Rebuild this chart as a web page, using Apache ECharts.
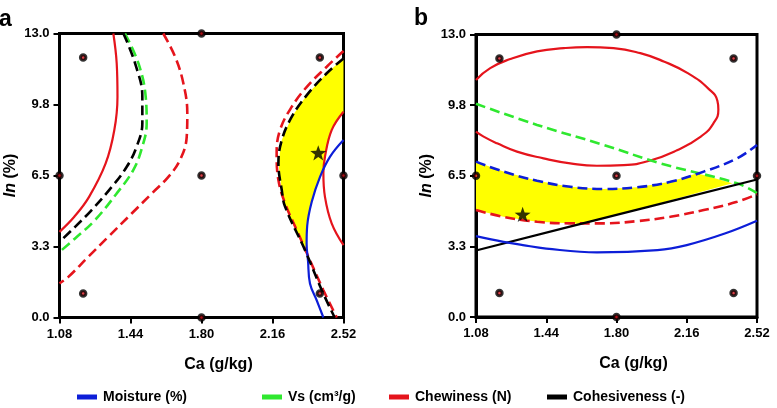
<!DOCTYPE html>
<html>
<head>
<meta charset="utf-8">
<script src="https://cdn.jsdelivr.net/npm/echarts@6/dist/echarts.min.js"></script>
<style>
html,body{margin:0;padding:0;background:#fff;}
#chart{width:777px;height:408px;}
</style>
</head>
<body>
<div id="chart"></div>
<script>
// ---- tick labels ----
const xTickLabels = ['1.08', '1.44', '1.80', '2.16', '2.52'];
const yTickLabels = ['0.0', '3.3', '6.5', '9.8', '13.0'];
const legendNames = ['Moisture (%)', 'Vs (cm³/g)', 'Chewiness (N)', 'Cohesiveness (-)'];

// ---- design points (both panels) ----
const designPoints = [[1.08, 6.5], [2.52, 6.5], [1.80, 0], [1.80, 13], [1.80, 6.5], [1.20, 11.9], [2.40, 11.9], [1.20, 1.1], [2.40, 1.1]];

// ---- panel a contours ----
const aChewSolidL = [[1.353, 13.0], [1.370, 11.64], [1.374, 10.11], [1.358, 8.58], [1.314, 7.05], [1.230, 5.52], [1.155, 4.61], [1.08, 3.92]];
const aCohesDashL = [[1.404, 13.0], [1.463, 11.64], [1.500, 10.11], [1.500, 8.89], [1.471, 7.82], [1.421, 6.90], [1.345, 5.98], [1.243, 4.92], [1.159, 4.15], [1.08, 3.46]];
const aVsDashL = [[1.412, 13.0], [1.480, 11.64], [1.517, 10.11], [1.522, 8.89], [1.500, 7.82], [1.454, 6.75], [1.370, 5.68], [1.260, 4.46], [1.159, 3.62], [1.08, 3.00]];
const aChewDashL = [[1.606, 13.0], [1.666, 11.94], [1.708, 10.72], [1.728, 9.34], [1.725, 8.27], [1.691, 7.21], [1.632, 6.44], [1.548, 5.68], [1.446, 4.76], [1.327, 3.69], [1.226, 2.78], [1.125, 1.86], [1.08, 1.56]];
const aChewDashR = [[2.52, 12.2], [2.435, 11.48], [2.334, 10.56], [2.258, 9.65], [2.198, 8.58], [2.181, 7.51], [2.190, 6.29], [2.224, 5.22], [2.283, 4.0], [2.350, 2.62], [2.418, 1.25], [2.486, 0.0]];
const aCohesDashR = [[2.52, 11.86], [2.435, 11.18], [2.334, 10.18], [2.258, 9.19], [2.207, 8.12], [2.190, 7.05], [2.207, 5.83], [2.224, 5.07], [2.325, 3.08], [2.410, 1.25], [2.475, 0.0]];
const aChewSolidR = [[2.52, 9.42], [2.460, 8.58], [2.426, 7.36], [2.418, 6.60], [2.426, 5.52], [2.460, 4.31], [2.52, 3.31]];
const aMoistSolidR = [[2.52, 8.12], [2.452, 7.36], [2.401, 6.44], [2.359, 5.30], [2.336, 4.2], [2.333, 3.39], [2.340, 2.6], [2.350, 1.56], [2.384, 0.79], [2.418, 0.0]];
const aRegion = [[2.52, 11.86], [2.435, 11.18], [2.334, 10.18], [2.258, 9.19], [2.207, 8.12], [2.190, 7.05], [2.207, 5.83], [2.224, 5.07], [2.325, 3.08], [2.333, 3.39], [2.336, 4.2], [2.359, 5.30], [2.401, 6.44], [2.42, 7.0], [2.426, 7.36], [2.460, 8.58], [2.52, 9.42]];
const aStar = [[2.392, 7.54]];

// ---- panel b contours ----
const bChewEllipse = [[1.08, 10.91], [1.153, 11.45], [1.256, 11.87], [1.393, 12.22], [1.529, 12.37], [1.649, 12.42], [1.785, 12.37], [1.922, 12.14], [2.042, 11.76], [2.165, 11.22], [2.272, 10.50], [2.317, 9.95], [2.322, 9.55], [2.296, 8.90], [2.232, 8.30], [2.110, 7.67], [1.973, 7.20], [1.837, 6.99], [1.700, 6.96], [1.563, 7.07], [1.426, 7.30], [1.290, 7.61], [1.188, 7.99], [1.119, 8.30], [1.08, 8.53]];
const bVsDash = [[1.08, 9.81], [1.393, 8.84], [1.734, 7.92], [2.025, 7.07], [2.418, 6.15], [2.52, 5.70]];
const bMoistDash = [[1.08, 7.15], [1.221, 6.69], [1.393, 6.27], [1.563, 5.99], [1.734, 5.89], [1.905, 5.97], [2.076, 6.22], [2.247, 6.69], [2.418, 7.30], [2.52, 7.92]];
const bChewDash = [[1.08, 4.92], [1.221, 4.61], [1.393, 4.38], [1.563, 4.31], [1.734, 4.31], [1.905, 4.41], [2.076, 4.61], [2.247, 4.92], [2.418, 5.30], [2.52, 5.65]];
const bCohesSolid = [[1.08, 3.06], [1.80, 4.70], [2.52, 6.33]];
const bMoistSolid = [[1.08, 3.72], [1.221, 3.46], [1.32, 3.31], [1.44, 3.15], [1.70, 2.97], [2.01, 3.08], [2.16, 3.31], [2.355, 3.84], [2.52, 4.43]];
const bRegion = [[1.08, 4.92], [1.221, 4.61], [1.393, 4.38], [1.563, 4.31], [1.63, 4.27], [2.394, 6.15], [2.213, 6.61], [2.076, 6.22], [1.905, 5.97], [1.734, 5.89], [1.563, 5.99], [1.393, 6.27], [1.221, 6.69], [1.08, 7.15]];
const bStar = [[1.319, 4.72]];

// ---- styling ----
const BLUE = '#0d1ed8', GREEN = '#2fe82f', RED = '#e5141c', BLACK = '#000000', YELLOW = '#ffff00';
const FONT = 'Liberation Sans, Arial, Helvetica, sans-serif';
const STAR = 'path://M0,-10L2.35,-3.24L9.51,-3.09L3.8,1.24L5.88,8.09L0,4L-5.88,8.09L-3.8,1.24L-9.51,-3.09L-2.35,-3.24Z';

function xAxis(gi) {
  return {
    type: 'value', gridIndex: gi, min: 1.08, max: 2.52, interval: 0.36,
    name: 'Ca (g/kg)', nameLocation: 'middle', nameGap: 39,
    nameTextStyle: { fontSize: 16, fontWeight: 'bold', color: '#000', fontFamily: FONT, padding: [0, 0, 0, 34] },
    axisLine: { show: true, onZero: false, lineStyle: { color: '#000', width: 3 } },
    axisTick: { show: true, length: 6, lineStyle: { color: '#000', width: 2 } },
    axisLabel: { margin: 10, fontSize: 13, fontWeight: 'bold', color: '#000', fontFamily: FONT, showMinLabel: true, showMaxLabel: true,
      formatter: v => xTickLabels[Math.round((v - 1.08) / 0.36)] },
    splitLine: { show: false }
  };
}
function yAxis(gi) {
  return {
    type: 'value', gridIndex: gi, min: 0, max: 13, interval: 3.25,
    name: '{i|In} (%)', nameLocation: 'middle', nameGap: 41,
    nameTextStyle: { fontSize: 16, fontWeight: 'bold', color: '#000', fontFamily: FONT,
      rich: { i: { fontStyle: 'italic', fontWeight: 'bold', fontSize: 16, color: '#000', fontFamily: FONT } } },
    axisLine: { show: true, onZero: false, lineStyle: { color: '#000', width: 3 } },
    axisTick: { show: true, length: 6, lineStyle: { color: '#000', width: 2 } },
    axisLabel: { margin: 10, fontSize: 13, fontWeight: 'bold', color: '#000', fontFamily: FONT, showMinLabel: true, showMaxLabel: true,
      formatter: v => yTickLabels[Math.round(v / 3.25)] },
    splitLine: { show: false }
  };
}
function line(name, data, color, dashed, gi, z, smooth) {
  return {
    type: 'line', name: name, data: data, xAxisIndex: gi, yAxisIndex: gi,
    symbol: 'none', showSymbol: false, smooth: smooth || 0.4, clip: true, silent: true, z: z || 3,
    itemStyle: { color: color },
    lineStyle: { color: color, width: dashed ? 2.6 : 2.2, type: dashed ? [10, 5] : 'solid', cap: 'butt' }
  };
}
function region(data, gi) {
  return {
    type: 'custom', name: 'region' + gi, xAxisIndex: gi, yAxisIndex: gi, silent: true, z: 1, clip: true,
    data: [[1.8, 6.5]],
    renderItem: function (params, api) {
      const pts = data.map(p => api.coord(p));
      return { type: 'polygon', shape: { points: pts }, style: { fill: YELLOW, stroke: null } };
    }
  };
}
function dots(gi) {
  return {
    type: 'scatter', name: 'design' + gi, xAxisIndex: gi, yAxisIndex: gi, data: designPoints, clip: false, silent: true, z: 6,
    symbol: 'circle', symbolSize: 5.5, itemStyle: { color: '#d8101a', borderColor: '#000', borderWidth: 3 }
  };
}
function star(data, gi) {
  return {
    type: 'scatter', name: 'opt' + gi, xAxisIndex: gi, yAxisIndex: gi, data: data, clip: false, silent: true, z: 7,
    symbol: STAR, symbolKeepAspect: true, symbolSize: 16, itemStyle: { color: '#000' }
  };
}
function legendItem(name, left) {
  return {
    data: [name], left: left, top: 390, icon: 'rect', itemWidth: 20, itemHeight: 5, itemGap: 0, padding: 0,
    selectedMode: false,
    textStyle: { fontSize: 14, fontWeight: 'bold', color: '#000', fontFamily: FONT, padding: [0, 0, 0, 1] },
    itemStyle: { borderWidth: 0 }
  };
}

const chart = echarts.init(document.getElementById('chart'), null, { renderer: 'canvas' });
chart.setOption({
  animation: false,
  backgroundColor: '#fff',
  textStyle: { fontFamily: FONT },
  title: [
    { text: 'a', left: -1, top: 8, padding: 0, textStyle: { fontSize: 23, fontWeight: 'bold', color: '#000', fontFamily: FONT } },
    { text: 'b', left: 414, top: 7, padding: 0, textStyle: { fontSize: 23, fontWeight: 'bold', color: '#000', fontFamily: FONT } }
  ],
  grid: [
    { left: 59.5, top: 33.5, width: 284, height: 284, show: true, borderColor: '#000', borderWidth: 3, backgroundColor: 'transparent' },
    { left: 476, top: 34.5, width: 281, height: 282.5, show: true, borderColor: '#000', borderWidth: 3, backgroundColor: 'transparent' }
  ],
  xAxis: [xAxis(0), xAxis(1)],
  yAxis: [yAxis(0), yAxis(1)],
  legend: [
    legendItem(legendNames[0], 77),
    legendItem(legendNames[1], 262),
    legendItem(legendNames[2], 389),
    legendItem(legendNames[3], 547)
  ],
  series: [
    region(aRegion, 0),
    line(legendNames[2], aChewSolidL, RED, false, 0),
    line(legendNames[2], aChewDashL, RED, true, 0),
    line(legendNames[1], aVsDashL, GREEN, true, 0),
    line(legendNames[3], aCohesDashL, BLACK, true, 0, 4),
    line(legendNames[2], aChewDashR, RED, true, 0),
    line(legendNames[3], aCohesDashR, BLACK, true, 0, 4),
    line(legendNames[2], aChewSolidR, RED, false, 0),
    line(legendNames[0], aMoistSolidR, BLUE, false, 0),
    dots(0),
    star(aStar, 0),

    region(bRegion, 1),
    line(legendNames[2], bChewEllipse, RED, false, 1, 3, 0.5),
    line(legendNames[1], bVsDash, GREEN, true, 1),
    line(legendNames[0], bMoistDash, BLUE, true, 1),
    line(legendNames[2], bChewDash, RED, true, 1),
    line(legendNames[3], bCohesSolid, BLACK, false, 1),
    line(legendNames[0], bMoistSolid, BLUE, false, 1),
    dots(1),
    star(bStar, 1)
  ]
});
</script>
</body>
</html>
